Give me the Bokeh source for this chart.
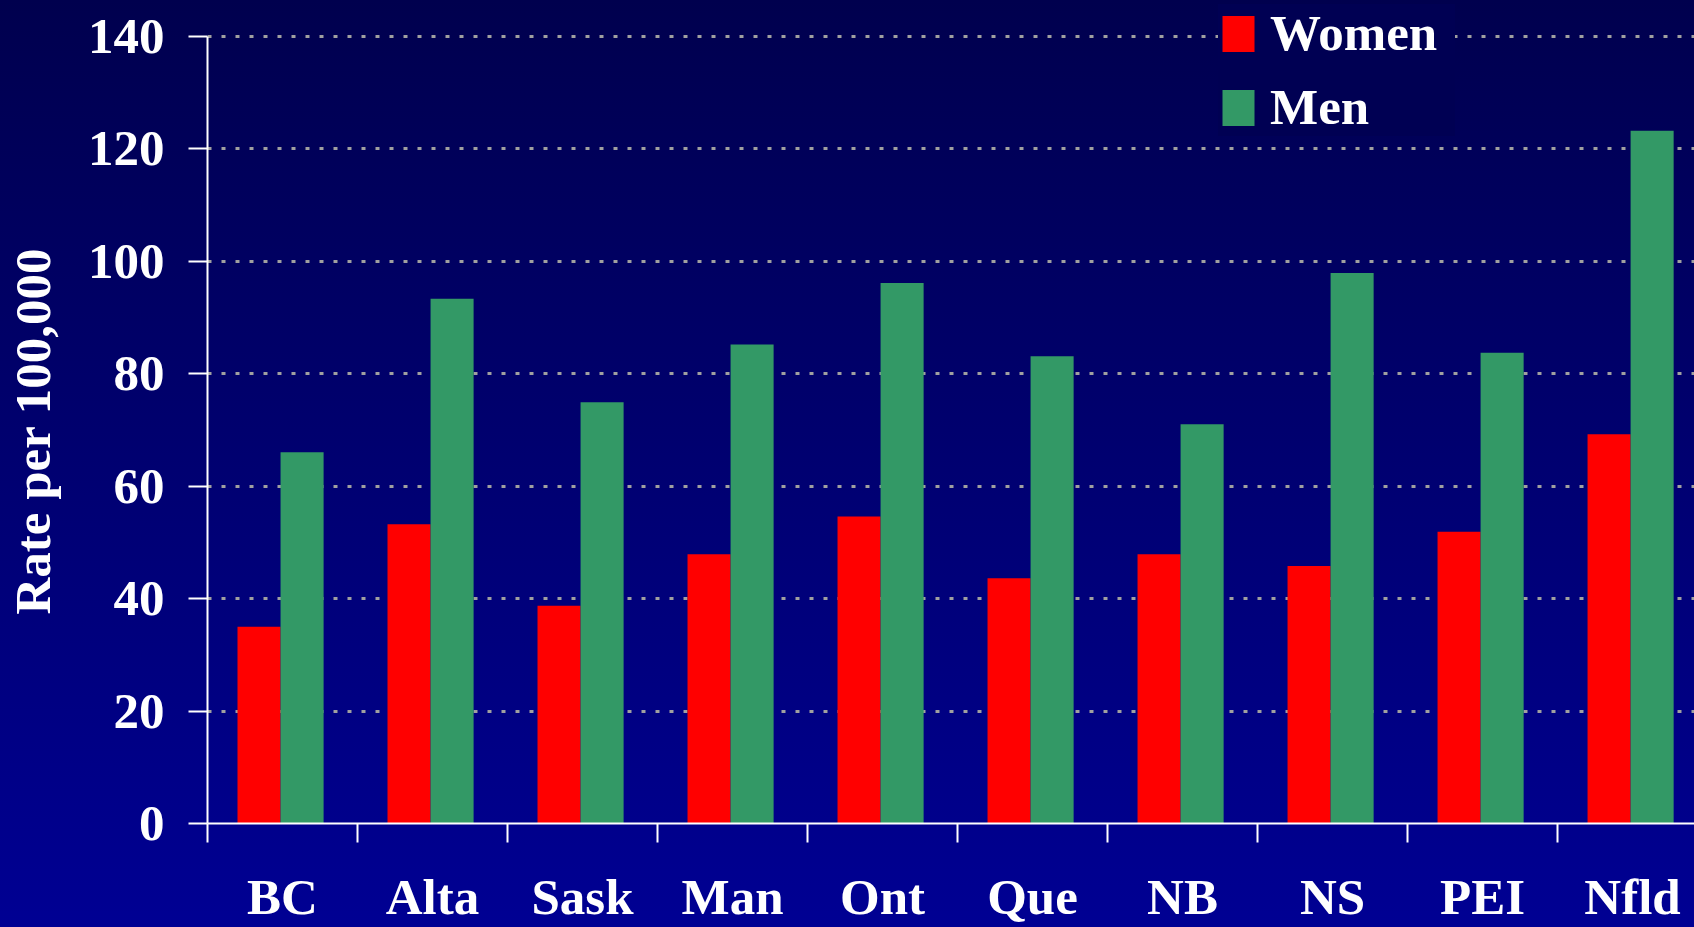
import numpy as np
from bokeh.plotting import figure
from bokeh.models import Range1d, FixedTicker, Legend, LegendItem
from bokeh.embed import file_html
from bokeh.resources import INLINE

# ---- data ----
provinces = ["BC", "Alta", "Sask", "Man", "Ont", "Que", "NB", "NS", "PEI", "Nfld"]
women = [35.0, 53.2, 38.7, 47.9, 54.6, 43.6, 47.9, 45.8, 51.9, 69.2]
men = [66.0, 93.3, 74.9, 85.2, 96.1, 83.1, 71.0, 97.9, 83.7, 123.2]
y_ticks = [0, 20, 40, 60, 80, 100, 120, 140]
series_names = ["Women", "Men"]
series_colors = ["#ff0000", "#339966"]
y_label = "Rate per 100,000"

FONT = "Liberation Serif"
n = len(provinces)
idx = np.arange(n)

p = figure(width=1694, height=927,
           x_range=Range1d(0, 9.913), y_range=Range1d(0, 146.35),
           output_backend="svg", toolbar_location=None,
           min_border_left=207, min_border_right=0,
           min_border_top=0, min_border_bottom=104)

p.styles = {"background": "linear-gradient(to bottom, #00004e, #000093)"}
p.background_fill_alpha = 0
p.border_fill_alpha = 0
p.outline_line_color = None

bw = 0.287
r_w = p.vbar(x=idx + 0.2 + bw / 2, top=women, width=bw, bottom=0,
             fill_color=series_colors[0], line_color=None)
r_m = p.vbar(x=idx + 0.2 + bw * 1.5, top=men, width=bw, bottom=0,
             fill_color=series_colors[1], line_color=None)

# grid
p.xgrid.visible = False
p.ygrid.grid_line_color = "#a0a0a0"
p.ygrid.grid_line_width = 3
p.ygrid.grid_line_dash = "4 10"

# y axis
p.yaxis.ticker = FixedTicker(ticks=y_ticks)
p.yaxis.bounds = (0, 140)
p.yaxis.axis_line_color = "white"
p.yaxis.axis_line_width = 2
p.yaxis.major_tick_line_color = "white"
p.yaxis.major_tick_line_width = 2
p.yaxis.major_tick_out = 19
p.yaxis.major_tick_in = 0
p.yaxis.minor_tick_line_color = None
p.yaxis.major_label_text_font = FONT
p.yaxis.major_label_text_font_style = "bold"
p.yaxis.major_label_text_font_size = "51px"
p.yaxis.major_label_text_color = "white"
p.yaxis.major_label_standoff = 24
# trailing no-break spaces re-centre the label on the 0-140 span
p.yaxis.axis_label = y_label + "\u00a0\u00a0\u00a0"
p.yaxis.axis_label_text_font = FONT
p.yaxis.axis_label_text_font_style = "bold"
p.yaxis.axis_label_text_font_size = "51px"
p.yaxis.axis_label_text_color = "white"
p.yaxis.axis_label_standoff = 24

# x axis: labels at centres, ticks at boundaries (minor)
p.xaxis.ticker = FixedTicker(ticks=[float(i) + 0.5 for i in idx],
                             minor_ticks=[float(i) for i in idx])
p.xaxis.major_label_overrides = {float(i) + 0.5: provinces[i] for i in idx}
p.xaxis.axis_line_color = "white"
p.xaxis.axis_line_width = 2
p.xaxis.major_tick_line_color = None
p.xaxis.major_tick_out = 0
p.xaxis.major_tick_in = 0
p.xaxis.minor_tick_line_color = "white"
p.xaxis.minor_tick_line_width = 2
p.xaxis.minor_tick_out = 19
p.xaxis.minor_tick_in = 0
p.xaxis.major_label_text_font = FONT
p.xaxis.major_label_text_font_style = "bold"
p.xaxis.major_label_text_font_size = "51px"
p.xaxis.major_label_text_color = "white"
p.xaxis.major_label_standoff = 26

legend = Legend(items=[LegendItem(label=series_names[0], renderers=[r_w]),
                       LegendItem(label=series_names[1], renderers=[r_m])],
                location=(1011, 687), orientation="vertical")
legend.glyph_width = 40
legend.glyph_height = 45
legend.label_standoff = 12
legend.label_width = 185
legend.label_height = 58
legend.spacing = 16
legend.padding = 4
legend.margin = 0
legend.label_text_font = FONT
legend.label_text_font_style = "bold"
legend.label_text_font_size = "51px"
legend.label_text_line_height = 1.0
legend.label_text_color = "white"
legend.background_fill_color = "#000053"
legend.background_fill_alpha = 1
legend.border_line_color = None
p.add_layout(legend)

open("out.html", "w").write(file_html(p, INLINE))
